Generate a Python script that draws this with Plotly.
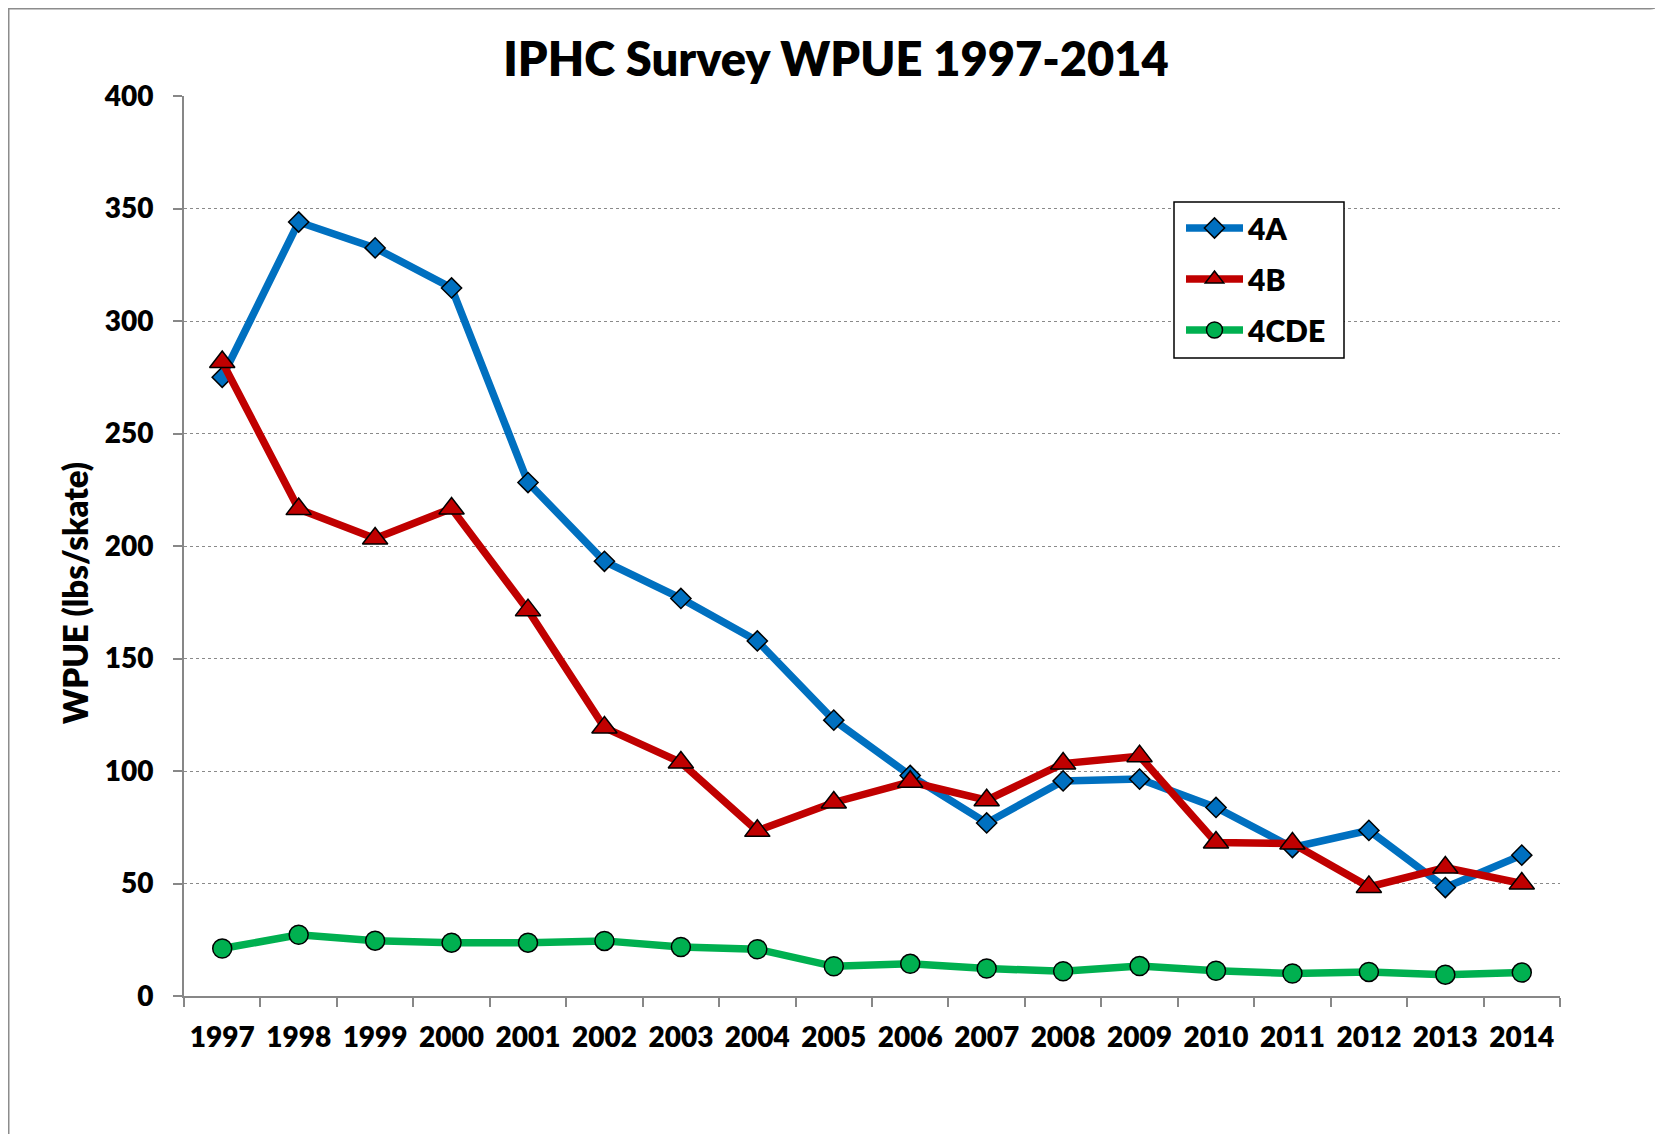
import plotly.graph_objects as go

years = ["1997", "1998", "1999", "2000", "2001", "2002", "2003", "2004", "2005",
         "2006", "2007", "2008", "2009", "2010", "2011", "2012", "2013", "2014"]
wpue_4a = [275, 344, 332.5, 314.7, 228.2, 193.2, 176.7, 157.8, 122.6,
           98, 76.9, 95.6, 96.4, 83.8, 66, 73.6, 48.2, 62.6]
wpue_4b = [281.8, 216.4, 203.3, 216.7, 171.5, 119.3, 103.8, 73.4, 86,
           95.2, 87, 103.3, 106.6, 68.2, 67.8, 48.5, 57.1, 50]
wpue_4cde = [21.1, 27.2, 24.6, 23.7, 23.7, 24.5, 21.8, 20.8, 13.2,
             14.3, 12.2, 11.0, 13.3, 11.2, 10.0, 10.7, 9.5, 10.4]

OFF = 8  # page body margin
W, H = 1663 - OFF, 1134 - OFF
ML, MT = 184 - OFF, 96 - OFF
MR = W - (1560 - OFF)
MB = H - (996 - OFF)
PW, PH = W - ML - MR, H - MT - MB

def px2paper(x, y):
    """window pixel coords -> paper coords"""
    return (x - OFF - ML) / PW, (H - MB - (y - OFF)) / PH

FONT = "Lato"
AX = "#878787"
WT = 800

fig = go.Figure()
series = [
    ("4A", wpue_4a, "#0070C0", "diamond", 15.5),
    ("4B", wpue_4b, "#C00000", "triangle-up", 22),
    ("4CDE", wpue_4cde, "#00B050", "circle", 19),
]
for name, vals, col, sym, sz in series:
    fig.add_trace(go.Scatter(
        x=years, y=vals, name=name, legendgroup=name, mode="lines+markers",
        line=dict(color=col, width=7.5),
        marker=dict(symbol=sym, size=sz, color=col, line=dict(color="black", width=1.5)),
    ))

# outer chart-area border (top and left edges visible)
x0, y0 = px2paper(OFF + 0.75, OFF + 0.75)
x1, _ = px2paper(1650, 0)
_, yb = px2paper(0, 1140)
xc, yc = px2paper(1662, 0)
fig.add_shape(type="path", xref="paper", yref="paper",
              path=f"M {x0},{yb} L {x0},{y0} L {x1},{y0} Q {(x1 + xc) / 2 + 0.003},{y0} {xc},{yc}",
              line=dict(color="#8c8c8c", width=1.5), layer="above")

# legend frame
bx0, by0 = px2paper(1174, 202)
bx1, by1 = px2paper(1344, 358)
fig.add_shape(type="rect", xref="paper", yref="paper", x0=bx0, x1=bx1, y0=by1, y1=by0,
              line=dict(color="black", width=1.5), fillcolor="white", layer="above")

ax_x, ax_y = px2paper(75, 593)
fig.add_annotation(text="WPUE (lbs/skate)", xref="paper", yref="paper",
                   x=ax_x, y=ax_y, xanchor="center", yanchor="middle", textangle=-90,
                   showarrow=False, font=dict(family=FONT, size=33, color="black", weight=WT))

lx, _ = px2paper(1181, 0)
_, ly = px2paper(0, 202)
fig.update_layout(
    width=W, height=H,
    margin=dict(l=ML, r=MR, t=MT, b=MB),
    paper_bgcolor="white", plot_bgcolor="white",
    font=dict(family=FONT, color="black"),
    title=dict(text="IPHC Survey WPUE 1997-2014", x=(836 - OFF) / W, xref="container",
               xanchor="center", y=1 - (60 - OFF) / H, yref="container", yanchor="middle",
               font=dict(family=FONT, size=47, color="black", weight=WT)),
    showlegend=True,
    legend=dict(x=lx, y=ly, xanchor="left", yanchor="top",
                borderwidth=0, bgcolor="rgba(0,0,0,0)",
                font=dict(family=FONT, size=30, color="black", weight=WT),
                itemwidth=57, tracegroupgap=9, traceorder="grouped"),
    xaxis=dict(type="category", tickson="boundaries", ticks="outside", ticklen=9,
               tickwidth=1.5, tickcolor=AX, showline=True, linecolor=AX, linewidth=2,
               showgrid=False, tickangle=0,
               tickfont=dict(family=FONT, size=28, color="black", weight=WT),
               ticklabelstandoff=15, range=[-0.5, 17.5]),
    yaxis=dict(range=[0, 400], dtick=50, ticks="outside", ticklen=9, tickwidth=1.5,
               tickcolor=AX, showline=True, linecolor=AX, linewidth=2,
               showgrid=True, gridcolor="#8a8a8a", griddash="dot", gridwidth=1.2,
               zeroline=False,
               tickfont=dict(family=FONT, size=28, color="black", weight=WT),
               ticklabelstandoff=14),
)

fig.write_html("out.html")
